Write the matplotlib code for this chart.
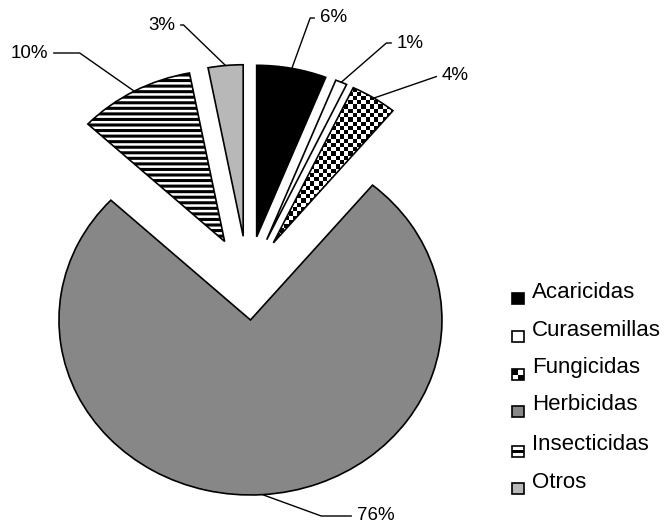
import numpy as np
import matplotlib
matplotlib.use('Agg')
import matplotlib.pyplot as plt
from matplotlib.patches import Rectangle

plt.rcParams['font.family'] = ['Liberation Sans', 'DejaVu Sans']
plt.rcParams['hatch.linewidth'] = 2.2

# data
categories = ['Acaricidas', 'Curasemillas', 'Fungicidas', 'Herbicidas', 'Insecticidas', 'Otros']
shares = [6, 1, 4, 76, 10, 3]
pct_labels = ['6%', '1%', '4%', '76%', '10%', '3%']

# styling
explode = [0.25, 0.25, 0.25, 0.23, 0.25, 0.25]
colors = ['black', 'white', 'white', '#878787', 'white', '#b8b8b8']
W, H = 665, 526

fig = plt.figure(figsize=(W / 100, H / 100), dpi=100)
ax = fig.add_axes([0, 0, 1, 1])

wedges, _ = ax.pie(shares, explode=explode, colors=colors, startangle=90,
                   counterclock=False,
                   wedgeprops=dict(edgecolor='black', linewidth=1.2))

for i, w in enumerate(wedges):
    if categories[i] != 'Herbicidas':
        w.set_radius(0.98)

# stripes for Insecticidas
wedges[4].set_hatch('---')

# checkerboard for Fungicidas, clipped to the wedge
fung = wedges[2]
fung.set_facecolor('none')
n = 44
ii, jj = np.indices((n, n))
checker = (ii + jj) % 2
sx, sy = 0.0222, 0.0243
x0, y0 = 0.08, 0.15
img = ax.imshow(checker, cmap='gray_r', extent=(x0, x0 + n * sx, y0, y0 + n * sy),
                origin='lower', interpolation='nearest', zorder=0.5)
img.set_clip_path(fung)

# axes geometry (slightly wider than tall, like the reference)
ox, oy = 247.7, 279.8
sxp, syp = 191.5, 175.0
ax.set_aspect('auto')
ax.set_xlim(-ox / sxp, (W - ox) / sxp)
ax.set_ylim(-(H - oy) / syp, oy / syp)
ax.axis('off')

# percentage labels with leader lines
label_xy = [(320, 18, 'left', 70), (397, 43, 'left', 41), (442, 76, 'left', 19),
            (357, 516, 'left', -20), (48, 53, 'right', 145), (175, 25, 'right', 136)]
for w, lab, (tx, ty, ha, angb) in zip(wedges, pct_labels, label_xy):
    mid = np.deg2rad((w.theta1 + w.theta2) / 2)
    px = w.center[0] + w.r * np.cos(mid)
    py = w.center[1] + w.r * np.sin(mid)
    ax.annotate(lab, xy=(px, py), xytext=(tx, H - ty), textcoords='figure pixels',
                ha=ha, va='center', fontsize=13.5,
                arrowprops=dict(arrowstyle='-', color='black', lw=1.0,
                                shrinkA=2, shrinkB=0,
                                connectionstyle=f'angle,angleA=0,angleB={angb},rad=0'))


# legend drawn by hand (custom swatches)
def fpx(x, y):
    return x / W, 1 - y / H


text_y = [292, 330, 368, 405, 445, 482]
mw, mh = 12 / W, 11 / H
for i, (name, ty) in enumerate(zip(categories, text_y)):
    mx, my = fpx(512, ty + 12)
    fc = colors[i] if name not in ('Fungicidas', 'Insecticidas') else 'white'
    fig.add_artist(Rectangle((mx, my), mw, mh, transform=fig.transFigure,
                             facecolor=fc, edgecolor='black', lw=1.2))
    if name == 'Fungicidas':
        fig.add_artist(Rectangle((mx, my + mh / 2), mw / 2, mh / 2,
                                 transform=fig.transFigure, facecolor='black', lw=0))
        fig.add_artist(Rectangle((mx + mw / 2, my), mw / 2, mh / 2,
                                 transform=fig.transFigure, facecolor='black', lw=0))
    if name == 'Insecticidas':
        fig.add_artist(Rectangle((mx, my + mh * 0.35), mw, mh * 0.3,
                                 transform=fig.transFigure, facecolor='black', lw=0))
    lx, ly = fpx(532, ty)
    fig.text(lx, ly, name, ha='left', va='center', fontsize=16)

fig.savefig('out.png', dpi=100)
